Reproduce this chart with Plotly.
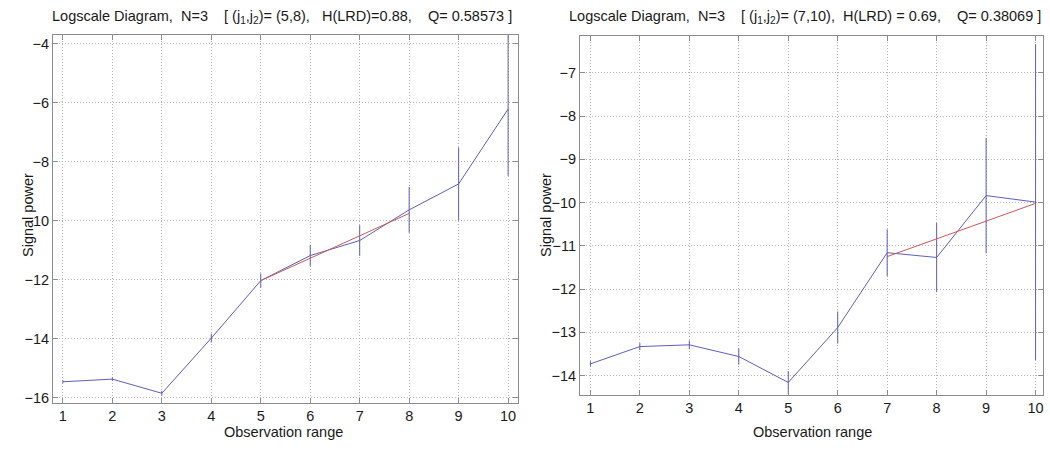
import plotly.graph_objects as go

# ---- data ----
octaves = [1, 2, 3, 4, 5, 6, 7, 8, 9, 10]

left_y = [-15.46, -15.37, -15.85, -13.98, -12.03, -11.18, -10.67, -9.63, -8.75, -6.21]
left_err_up = [0.05, 0.06, 0.08, 0.15, 0.24, 0.36, 0.52, 0.78, 1.24, 2.6]
left_err_down = [0.05, 0.06, 0.08, 0.15, 0.24, 0.36, 0.52, 0.78, 1.24, 2.27]
left_fit_x = [5, 8]
left_fit_y = [-12.03, -9.75]

right_y = [-13.73, -13.33, -13.29, -13.56, -14.16, -12.89, -11.16, -11.27, -9.84, -9.99]
right_err = [0.06, 0.08, 0.1, 0.19, 0.26, 0.37, 0.54, 0.8, 1.33, 3.65]
right_fit_x = [7, 10]
right_fit_y = [-11.25, -10.02]

left_title = "Logscale Diagram,  N=3    [ (j<sub>1</sub>,j<sub>2</sub>)= (5,8),   H(LRD)=0.88,    Q= 0.58573 ]"
right_title = "Logscale Diagram,  N=3    [ (j<sub>1</sub>,j<sub>2</sub>)= (7,10),  H(LRD) = 0.69,    Q= 0.38069 ]"
x_label = "Observation range"
y_label = "Signal power"
left_yticks = [-16, -14, -12, -10, -8, -6, -4]
right_yticks = [-14, -13, -12, -11, -10, -9, -8, -7]

BLUE = "#5e5eb8"
RED = "#c85a5a"
W, H = 1050, 450
FAM = "Liberation Sans, Arial, sans-serif"

def px(x):
    return x / W

def py(y):
    return 1 - y / H

fig = go.Figure()

fig.add_trace(go.Scatter(
    x=octaves, y=left_y, mode="lines", line=dict(color=BLUE, width=1),
    error_y=dict(type="data", array=left_err_up, arrayminus=left_err_down, symmetric=False,
                 color=BLUE, thickness=1, width=0),
    xaxis="x", yaxis="y", showlegend=False))
fig.add_trace(go.Scatter(
    x=left_fit_x, y=left_fit_y, mode="lines", line=dict(color=RED, width=1),
    xaxis="x", yaxis="y", showlegend=False))

fig.add_trace(go.Scatter(
    x=octaves, y=right_y, mode="lines", line=dict(color=BLUE, width=1),
    error_y=dict(type="data", array=right_err, color=BLUE, thickness=1, width=0),
    xaxis="x2", yaxis="y2", showlegend=False))
fig.add_trace(go.Scatter(
    x=right_fit_x, y=right_fit_y, mode="lines", line=dict(color=RED, width=1),
    xaxis="x2", yaxis="y2", showlegend=False))

font = dict(family=FAM, size=14.5, color="#1a1a1a")
GRID = dict(showgrid=True, gridcolor="#b4b4b4", griddash="1px,2px", gridwidth=1,
            zeroline=False, showline=True, linecolor="#8c8c8c", linewidth=1, mirror="ticks",
            ticks="inside", ticklen=5, tickcolor="#8c8c8c", tickfont=font, automargin=False,
            ticklabeloverflow="allow")

def xax(dom, anchor, rng):
    return dict(domain=dom, anchor=anchor, range=rng, tickvals=octaves, **GRID)

def yax(dom, anchor, rng, tv):
    return dict(domain=dom, anchor=anchor, range=rng, tickvals=tv, **GRID)

L = (53, 518, 35, 403)
R = (580, 1043, 36, 395)

def ann(text, x, y, size=14.5, angle=0):
    return dict(text=text, x=px(x), y=py(y), xref="paper", yref="paper",
                showarrow=False, xanchor="center", yanchor="middle", textangle=angle,
                font=dict(family=FAM, size=size, color="#1a1a1a"))

fig.update_layout(
    width=W, height=H,
    margin=dict(l=0, r=0, t=0, b=0),
    paper_bgcolor="white", plot_bgcolor="white",
    font=font,
    xaxis=xax([px(L[0]), px(L[1])], "y", [0.8, 10.2]),
    yaxis=yax([py(L[3]), py(L[2])], "x", [-16.18, -3.7], left_yticks),
    xaxis2=xax([px(R[0]), px(R[1])], "y2", [0.79, 10.15]),
    yaxis2=yax([py(R[3]), py(R[2])], "x2", [-14.45, -6.15], right_yticks),
    annotations=[
        ann(left_title, 282, 17, size=14.5),
        ann(right_title, 805, 17, size=14.5),
        ann(x_label, 283, 432),
        ann(x_label, 812, 432),
        ann(y_label, 28, 215, angle=-90),
        ann(y_label, 546, 215, angle=-90),
    ],
)

fig.write_html(
    "out.html",
    config={"displayModeBar": False},
    post_script="document.body.style.margin='0';document.body.style.overflow='hidden';",
)
